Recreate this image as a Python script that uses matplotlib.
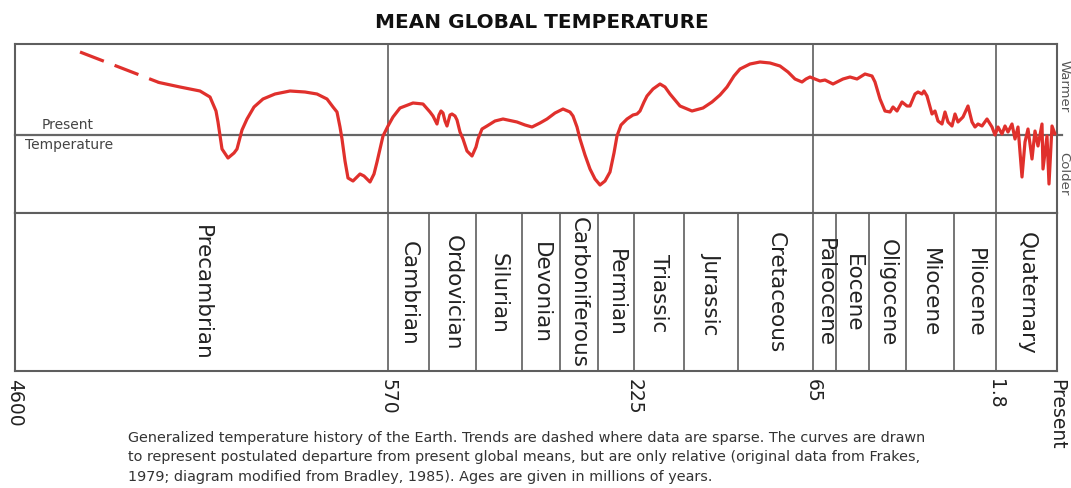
import matplotlib
matplotlib.use("Agg")
import matplotlib.pyplot as plt

plt.rcParams['font.family'] = ['DejaVu Sans']

# ---------------- data ----------------
# timeline positions (diagram units along the time axis) and relative temperature
# (0 = present global mean, + warmer, - colder)
dash_pos = [80, 159]
dash_temp = [8.3, 5.25]

curve_pos = [159, 180, 200, 210, 216, 218, 222, 228, 234, 237, 242, 247, 254, 263, 275,
             290, 305, 317, 327, 333, 337, 340, 342, 345, 348, 353, 357, 360, 364, 367,
             370, 374, 377, 383, 388, 393, 400, 413, 423, 430, 433, 437, 439, 441, 443,
             445, 447, 450, 452, 455, 457, 460, 463, 467, 472, 476, 478, 482, 487, 495,
             503, 517, 525, 532, 540, 547, 555, 563, 570, 573, 577, 580, 585, 590, 595,
             600, 605, 610, 614, 617, 621, 627, 633, 637, 640, 644, 647, 653, 660, 665,
             670, 680, 692, 703, 712, 720, 727, 734, 740, 750, 760, 770, 780, 788, 795,
             802, 806, 810, 815, 820, 825, 833, 843, 850, 857, 865, 872, 875, 880, 885,
             890, 893, 897, 902, 907, 910, 915, 918, 922, 924, 927, 932, 935, 938, 942,
             945, 948, 952, 955, 958, 963, 968, 972, 975, 978, 982, 987, 992, 995, 998,
             1002, 1005, 1008, 1012, 1015, 1018, 1022, 1025, 1028, 1032, 1035, 1038, 1042,
             1043, 1047, 1049, 1052, 1055]
curve_temp = [5.25, 4.8, 4.4, 3.8, 2.4, 1.3, -1.4, -2.3, -1.8, -1.4, 0.5, 1.6, 2.8, 3.6, 4.1,
              4.4, 4.3, 4.1, 3.6, 2.8, 2.3, 0.8, -0.4, -2.6, -4.3, -4.6, -4.2, -3.9, -4.1, -4.4,
              -4.7, -3.9, -2.7, -0.1, 0.9, 1.8, 2.7, 3.2, 3.1, 2.3, 1.9, 1.1, 2.0, 2.4, 2.2,
              1.4, 0.9, 2.0, 2.1, 1.9, 1.5, 0.3, -0.4, -1.6, -2.1, -1.2, -0.4, 0.6, 0.9, 1.4,
              1.6, 1.3, 1.0, 0.8, 1.2, 1.6, 2.2, 2.6, 2.3, 1.9, 0.8, -0.4, -2.0, -3.4, -4.4,
              -5.0, -4.6, -3.7, -1.8, -0.1, 1.0, 1.6, 2.0, 2.1, 2.4, 3.3, 3.9, 4.6, 5.1, 4.8,
              4.1, 2.9, 2.4, 2.7, 3.3, 4.0, 4.8, 5.9, 6.6, 7.1, 7.3, 7.2, 6.9, 6.3, 5.6,
              5.3, 5.6, 5.8, 5.6, 5.4, 5.5, 5.1, 5.6, 5.8, 5.6, 6.1, 5.9, 5.3, 3.6, 2.4,
              2.3, 2.8, 2.4, 3.3, 2.9, 2.9, 4.1, 4.3, 4.1, 4.4, 3.9, 2.1, 2.4, 1.4, 1.1,
              2.3, 1.3, 0.9, 2.1, 1.3, 1.8, 2.9, 1.3, 0.8, 1.1, 0.9, 1.6, 0.8, 0.0, 0.8,
              0.1, 0.9, 0.3, 1.1, -0.4, 0.8, -4.2, -0.7, 0.6, -2.4, 0.4, -1.1, 1.1,
              -3.4, -0.1, -4.9, 0.9, 0.1]

periods = ['Precambrian', 'Cambrian', 'Ordovician', 'Silurian', 'Devonian', 'Carboniferous',
           'Permian', 'Triassic', 'Jurassic', 'Cretaceous', 'Paleocene', 'Eocene',
           'Oligocene', 'Miocene', 'Pliocene', 'Quaternary']
boundaries = [15, 388, 429, 476, 522, 560, 598, 634, 684, 738, 813, 836, 869, 906, 954,
              996, 1057]
era_lines = [388, 813, 996]
tick_pos = [15, 388, 634, 813, 996, 1057]
tick_labels = ['4600', '570', '225', '65', '1.8', 'Present']

caption_lines = [
    "Generalized temperature history of the Earth. Trends are dashed where data are sparse. The curves are drawn",
    "to represent postulated departure from present global means, but are only relative (original data from Frakes,",
    "1979; diagram modified from Bradley, 1985). Ages are given in millions of years.",
]

# ---------------- figure ----------------
W, H = 1071, 489
fig = plt.figure(figsize=(W / 100, H / 100), dpi=100)
fig.patch.set_facecolor('white')

frame_col = '#5e5e5e'
red = '#e0302c'
txt_col = '#333333'

x0, x1 = 15, 1057
top_y0, top_y1, bot_y1 = 45, 214, 372

ax_top = fig.add_axes([x0 / W, 1 - top_y1 / H, (x1 - x0) / W, (top_y1 - top_y0) / H])
ax_bot = fig.add_axes([x0 / W, 1 - bot_y1 / H, (x1 - x0) / W, (bot_y1 - top_y1) / H])

for ax in (ax_top, ax_bot):
    ax.set_xlim(x0, x1)
    for s in ax.spines.values():
        s.set_color(frame_col)
        s.set_linewidth(1.5)
    ax.set_yticks([])

ax_top.set_ylim(-7.8, 9.1)
ax_top.set_xticks([])
ax_bot.set_ylim(0, 1)

# present-temperature line
ax_top.plot([x0, x1 + 5], [0, 0], color='#666666', lw=1.6, clip_on=False, zorder=1)
for p in era_lines:
    ax_top.axvline(p, color=frame_col, lw=1.2, zorder=1)

# curve
ax_top.plot(dash_pos, dash_temp, color=red, lw=2.3, dashes=(8, 3.6),
            dash_capstyle='butt', zorder=3)
ax_top.plot(curve_pos, curve_temp, color=red, lw=2.3, solid_joinstyle='round',
            solid_capstyle='round', zorder=3)

# labels in top panel
ax_top.text(68, 1.1, 'Present', ha='center', va='center', fontsize=10, color='#444444')
ax_top.text(69, -0.9, 'Temperature', ha='center', va='center', fontsize=10, color='#444444')
fig.text(1064 / W, 1 - 86 / H, 'Warmer', rotation=-90, ha='center', va='center',
         fontsize=9.5, color='#555555')
fig.text(1064 / W, 1 - 174 / H, 'Colder', rotation=-90, ha='center', va='center',
         fontsize=9.5, color='#555555')

# period cells
for b in boundaries[1:-1]:
    ax_bot.axvline(b, color=frame_col, lw=1.2)
for name, a, b in zip(periods, boundaries[:-1], boundaries[1:]):
    ax_bot.text((a + b) / 2, 0.5, name, rotation=-90, ha='center', va='center',
                fontsize=15.5, color='#222222')

ax_bot.set_xticks(tick_pos)
ax_bot.set_xticklabels(tick_labels, rotation=-90, fontsize=13.5, color='#222222')
ax_bot.tick_params(axis='x', length=0, pad=5)

# title and caption
fig.text(542 / W, 1 - 22 / H, 'MEAN GLOBAL TEMPERATURE', ha='center', va='center',
         fontsize=14.4, fontweight='bold', color='#111111')
for i, line in enumerate(caption_lines):
    fig.text(128 / W, 1 - (438 + 19.5 * i) / H, line, ha='left', va='center',
             fontsize=10.35, color=txt_col)

fig.savefig('out.png', dpi=100, facecolor='white')
